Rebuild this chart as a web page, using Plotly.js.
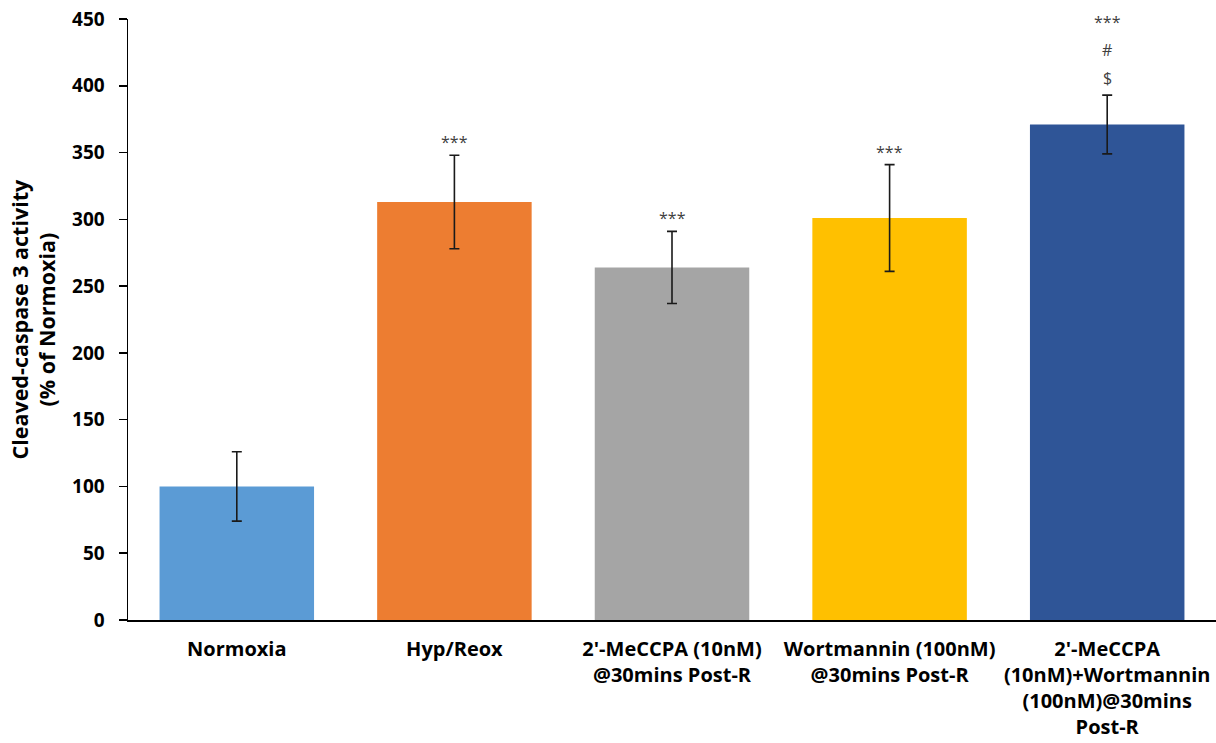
<!DOCTYPE html>
<html>
<head>
<meta charset="utf-8">
<script src="https://cdn.plot.ly/plotly-3.0.1.min.js"></script>
<style>html,body{margin:0;padding:0;background:#fff;}#chart{width:1216px;height:743px;}</style>
</head>
<body>
<div id="chart"></div>
<script>
const categories = [
  "Normoxia",
  "Hyp/Reox",
  "2'-MeCCPA (10nM)<br>@30mins Post-R",
  "Wortmannin (100nM)<br>@30mins Post-R",
  "2'-MeCCPA<br>(10nM)+Wortmannin<br>(100nM)@30mins<br>Post-R"
];
const values = [100, 313, 264, 301, 371];
const errors = [26, 35, 27, 40, 22];
const barColors = ["#5B9BD5", "#ED7D31", "#A5A5A5", "#FFC000", "#2F5597"];
const sigLabels = [[], ["***"], ["***"], ["***"], ["***", "#", "$"]];
const yTicks = [0, 50, 100, 150, 200, 250, 300, 350, 400, 450];

const FONT = "Open Sans, Segoe UI, Arial, sans-serif";

const trace = {
  type: "bar",
  x: categories,
  y: values,
  marker: { color: barColors, line: { width: 0 } },
  error_y: { type: "data", array: errors, visible: true, color: "#1a1a1a", thickness: 1.6, width: 5 },
  hoverinfo: "skip"
};

const annotations = [];
sigLabels.forEach((lines, i) => {
  const n = lines.length;
  lines.forEach((t, j) => {
    const k = n - 1 - j; // 0 = bottom line
    let shift = 17 + k * 28;
    if (t === "***" && k === 0) shift -= 4;
    annotations.push({
      x: categories[i], y: values[i] + errors[i], xref: "x", yref: "y",
      text: t, showarrow: false, yanchor: "middle", xanchor: "center", yshift: shift,
      font: { family: FONT, size: 16, color: "#404040" }
    });
  });
});

annotations.push({
  xref: "paper", yref: "paper", x: -0.0873, y: 0.5, xanchor: "center", yanchor: "middle",
  textangle: -90, showarrow: false,
  text: "<b>Cleaved-caspase 3 activity<br>(% of Normoxia)</b>",
  font: { family: FONT, size: 21.5, color: "#000" }
});

const layout = {
  width: 1216, height: 743,
  margin: { l: 128, r: 0, t: 19, b: 123 },
  paper_bgcolor: "#fff", plot_bgcolor: "#fff",
  bargap: 0.29,
  showlegend: false,
  font: { family: FONT, color: "#000" },
  xaxis: {
    type: "category",
    showline: true, linecolor: "#000", linewidth: 2,
    ticks: "", showgrid: false, zeroline: false,
    tickfont: { family: FONT, size: 20, color: "#000", weight: "bold" },
    ticklabelstandoff: 10,
    fixedrange: true
  },
  yaxis: {
    range: [0, 450], tickvals: yTicks, ticktext: yTicks.map(String),
    showline: true, linecolor: "#000", linewidth: 1.5,
    ticks: "outside", ticklen: 8, tickwidth: 1.5, tickcolor: "#000",
    showgrid: false, zeroline: false,
    tickfont: { family: FONT, size: 19, color: "#000", weight: "bold" },
    ticklabelstandoff: 10,
    fixedrange: true
  },
  annotations: annotations
};

Plotly.newPlot("chart", [trace], layout, { displayModeBar: false, staticPlot: true });
</script>
</body>
</html>
